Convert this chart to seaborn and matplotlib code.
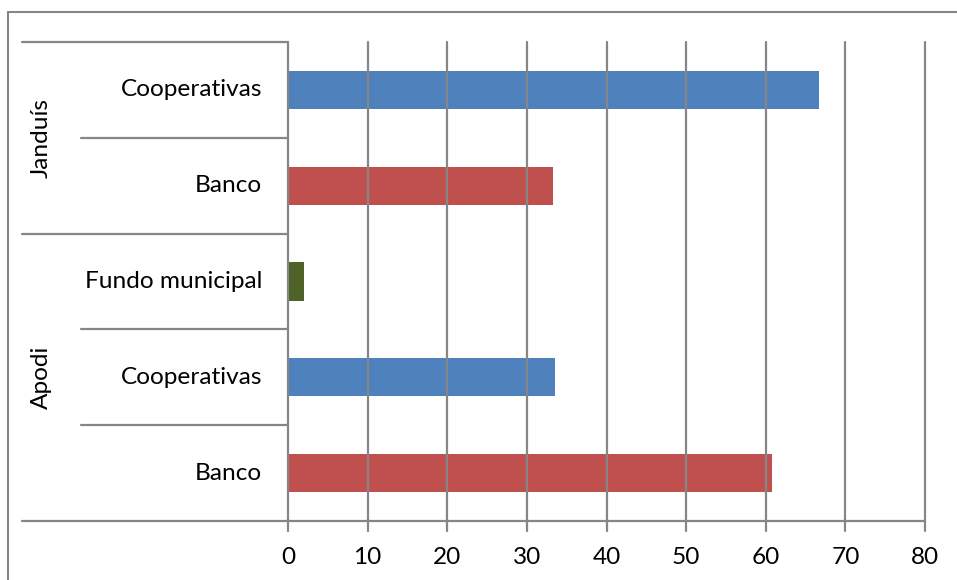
import matplotlib
matplotlib.use("Agg")
import matplotlib.pyplot as plt
import matplotlib.transforms as mtransforms
from matplotlib.lines import Line2D
from matplotlib.patches import Rectangle
import seaborn as sns
import pandas as pd

# Data, listed top to bottom as drawn
municipios = ["Janduís", "Janduís", "Apodi", "Apodi", "Apodi"]
fontes = ["Cooperativas", "Banco", "Fundo municipal", "Cooperativas", "Banco"]
valores = [66.7, 33.3, 2.0, 33.5, 60.8]
x_ticks = [0, 10, 20, 30, 40, 50, 60, 70, 80]
cores = {"Cooperativas": "#4F81BD", "Banco": "#C0504D", "Fundo municipal": "#4F6228"}

sns.set_theme(style="white")
plt.rcParams["font.family"] = ["Lato", "DejaVu Sans"]
FS = 17.6

W, H = 957, 580
fig = plt.figure(figsize=(W / 100, H / 100), dpi=100)

def fx(px):
    return px / W

def fy(py):
    return 1 - py / H

# Outer chart frame (top and left edges are visible)
fig.add_artist(Rectangle((fx(8), fy(590)), fx(960) - fx(8), fy(12) - fy(590),
                         transform=fig.transFigure, fill=False,
                         edgecolor="#868686", linewidth=1.5))

x0, x1, y0, y1 = 288, 925, 42, 521
ax = fig.add_axes([fx(x0), fy(y1), fx(x1) - fx(x0), fy(y0) - fy(y1)])

df = pd.DataFrame({
    "chave": [f"{m}|{f}|{i}" for i, (m, f) in enumerate(zip(municipios, fontes))],
    "fonte": fontes,
    "valor": valores,
})

sns.barplot(data=df, y="chave", x="valor", hue="fonte", palette=cores,
            dodge=False, width=0.4, orient="h", legend=False, ax=ax,
            saturation=1)
for p in ax.patches:
    p.set_edgecolor("none")

ax.set_xlim(0, 80)
ax.set_ylim(len(df) - 0.5, -0.5)
ax.set_xticks(x_ticks)
ax.set_xticklabels([str(t) for t in x_ticks], fontsize=FS, color="#000000")
ax.set_yticks([])
ax.set_xlabel("")
ax.set_ylabel("")
ax.tick_params(axis="x", length=0, pad=19)

grid_c = "#868686"
ax.grid(False)
for t in x_ticks:
    ax.axvline(t, color=grid_c, linewidth=1.6, zorder=5, clip_on=False)
for s in ax.spines.values():
    s.set_visible(False)

# Tick marks below the value axis
tr_x = mtransforms.blended_transform_factory(ax.transData, fig.transFigure)
for t in x_ticks:
    fig.add_artist(Line2D([t, t], [fy(521), fy(531)], transform=tr_x,
                          color=grid_c, linewidth=1.6))

# Category axis: labels and grouping lines
tr_y = mtransforms.blended_transform_factory(fig.transFigure, ax.transData)
lw = 1.6
for i, f in enumerate(fontes):
    ax.text(fx(262), i, f, transform=tr_y, ha="right", va="center",
            fontsize=FS, color="#000000")

n = len(fontes)
bounds = [-0.5 + k for k in range(n + 1)]
for k, b in enumerate(bounds):
    if k == 0 or k == n:
        start = 22
    elif municipios[k] != municipios[k - 1]:
        start = 22
    else:
        start = 81
    end = 288 if k < n else 925
    fig.add_artist(Line2D([fx(start), fx(end)], [b, b], transform=tr_y,
                          color=grid_c, linewidth=lw))

# Municipality labels, centred on their groups
grupos = []
for i, m in enumerate(municipios):
    if not grupos or grupos[-1][0] != m:
        grupos.append([m, i, i])
    else:
        grupos[-1][2] = i
for m, a, b in grupos:
    ax.text(fx(41), (a + b) / 2, m, transform=tr_y, rotation=90,
            ha="center", va="center", fontsize=FS, color="#000000")

fig.savefig("out.png", dpi=100)
